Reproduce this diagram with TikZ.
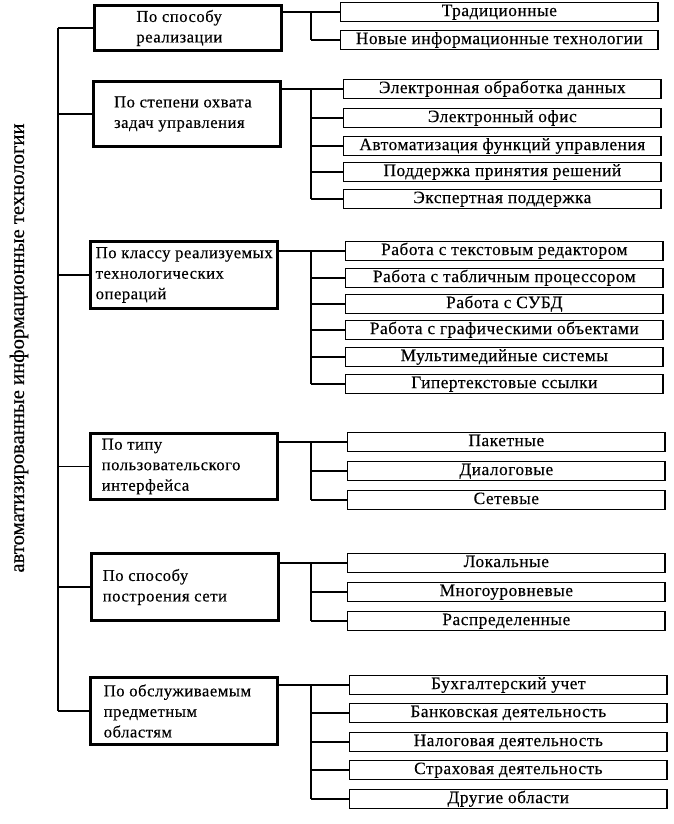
\documentclass[tikz,border=0pt]{standalone}
\usepackage{fontspec}
\setmainfont[FakeBold=0.3]{Liberation Serif}
\usetikzlibrary{positioning}

\begin{document}
\begin{tikzpicture}[x=0.75pt, y=-0.75pt, line width=1.1pt,
  cat/.style={draw, line width=2.2pt, minimum width=140pt, inner sep=0pt, anchor=west},
  cattext/.style={align=left, inner sep=0pt, font=\fontsize{12.5}{15.4}\selectfont\addfontfeature{LetterSpace=3}},
  item/.style={draw, line width=1pt, minimum width=238pt, minimum height=14.5pt, inner sep=0pt,
    text height=10.3pt, text depth=4.2pt, anchor=west, font=\fontsize{13}{14}\selectfont\addfontfeature{LetterSpace=3}}]
\useasboundingbox (0,0) rectangle (674,824);
% title along the trunk
\node[rotate=90, font=\fontsize{15.5}{18}\selectfont] (title) at (19,348) {автоматизированные информационные технологии};
% classification boxes
\foreach \i/\x/\y/\h/\p/\t in {
  1/93/28/45/32pt/{По способу\\реализации},
  2/92/114/65/16pt/{По степени охвата\\задач управления},
  3/89/275/67/4.5pt/{По классу реализуемых\\технологических\\операций},
  4/89/466.5/66/9pt/{По типу\\пользовательского\\интерфейса},
  5/90/587/67/9pt/{По способу\\построения сети},
  6/89/711/67/10.5pt/{По обслуживаемым\\предметным\\областям}}{
  \node[cat, minimum height=\h*0.75pt] (c\i) at (\x,\y) {};
  \node[cattext, right=\p of c\i.west] (t\i) {\t};
}
% items of each class
\foreach \y/\t [count=\j] in {12/Традиционные, 40/Новые информационные технологии}
  \node[item] (g1-\j) at (340,\y) {\t};
\foreach \y/\t [count=\j] in {89/Электронная обработка данных, 118/Электронный офис,
  146/Автоматизация функций управления, 172/Поддержка принятия решений, 199/Экспертная поддержка}
  \node[item] (g2-\j) at (343,\y) {\t};
\foreach \y/\t [count=\j] in {251/Работа с текстовым редактором, 278/Работа с табличным процессором,
  304/Работа с СУБД, 330/Работа с графическими объектами, 357/Мультимедийные системы, 384/Гипертекстовые ссылки}
  \node[item] (g3-\j) at (345,\y) {\t};
\foreach \y/\t [count=\j] in {442/Пакетные, 471/Диалоговые, 500/Сетевые}
  \node[item] (g4-\j) at (347,\y) {\t};
\foreach \y/\t [count=\j] in {563/Локальные, 592/Многоуровневые, 621/Распределенные}
  \node[item] (g5-\j) at (347,\y) {\t};
\foreach \y/\t [count=\j] in {685/Бухгалтерский учет, 713/Банковская деятельность,
  742/Налоговая деятельность, 770/Страховая деятельность, 799/Другие области}
  \node[item] (g6-\j) at (349,\y) {\t};
% trunk and branches
\coordinate (trunk) at (58,0);
\coordinate (br) at (311,0);
\draw (c1.west -| trunk) -- (c6.west -| trunk);
\foreach \i in {1,...,6}
  \draw (c\i.west -| trunk) -- (c\i.west);
\foreach \g/\n in {1/2,2/5,3/6,4/3,5/3,6/5}{
  \draw (c\g.east |- g\g-1.west) -- (g\g-1.west);
  \draw (g\g-1.west -| br) -- (g\g-\n.west -| br);
  \foreach \j in {2,...,\n}
    \draw (g\g-\j.west -| br) -- (g\g-\j.west);
}
\end{tikzpicture}
\end{document}
